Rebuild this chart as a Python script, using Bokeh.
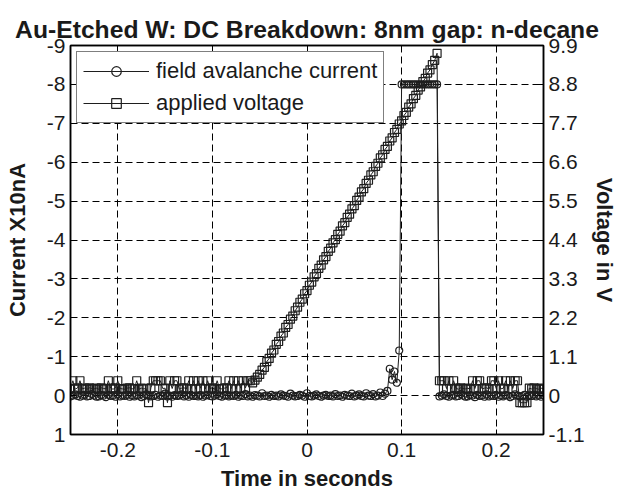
import numpy as np
from bokeh.plotting import figure
from bokeh.models import Range1d, LinearAxis, FixedTicker, Legend, LegendItem, ColumnDataSource
from bokeh.embed import file_html
from bokeh.resources import INLINE

# ---------------- data ----------------
t_start = -0.25
t_step = 0.0025
n_samples = 201

# applied voltage (V), baseline before the ramp (t = -0.25 ... -0.0625)
voltage_pre = [0.20, 0.42, 0.18, 0.22, 0.42, 0.19, 0.21, 0.18, 0.22, 0.20,
               0.19, 0.21, 0.18, 0.22, 0.20, 0.19, 0.42, 0.21, 0.18, 0.22,
               0.42, 0.20, 0.19, 0.18, 0.21, 0.22, 0.19, 0.20, 0.42, 0.18,
               0.21, 0.19, 0.20, -0.20, 0.22, 0.42, 0.42, 0.42, 0.42, 0.20,
               0.21, -0.20, 0.42, 0.20, 0.42, 0.42, 0.18, 0.21, 0.22, 0.19,
               0.42, 0.20, 0.42, 0.18, 0.42, 0.21, 0.42, 0.19, 0.42, 0.20,
               0.22, 0.18, 0.42, 0.20, 0.19, 0.21, 0.22, 0.42, 0.20, 0.42,
               0.19, 0.42, 0.21, 0.42, 0.22, 0.42]
# applied voltage ramp (t = -0.06 ... 0.1375)
voltage_ramp = [0.42, 0.36, 0.44, 0.52, 0.60, 0.72, 0.80, 0.96, 1.05, 1.20,
                1.29, 1.45, 1.53, 1.68, 1.77, 1.93, 2.01, 2.16, 2.25, 2.40,
                2.50, 2.64, 2.73, 2.88, 2.97, 3.12, 3.21, 3.36, 3.45, 3.60,
                3.69, 3.84, 3.93, 4.08, 4.17, 4.32, 4.41, 4.56, 4.65, 4.80,
                4.89, 5.04, 5.13, 5.28, 5.37, 5.52, 5.61, 5.76, 5.85, 6.00,
                6.09, 6.24, 6.33, 6.48, 6.57, 6.72, 6.81, 6.96, 7.05, 7.20,
                7.29, 7.44, 7.53, 7.68, 7.77, 7.92, 8.01, 8.16, 8.25, 8.40,
                8.49, 8.64, 8.73, 8.88, 8.97, 9.12, 9.21, 9.36, 9.48, 9.68]
# applied voltage after breakdown (t = 0.14 ... 0.25)
voltage_post = [0.42, 0.42, 0.42, 0.20, 0.42, 0.19, 0.42, 0.21, 0.18, 0.22,
                0.20, 0.19, 0.21, 0.18, 0.42, 0.20, 0.42, 0.42, 0.19, 0.21,
                0.22, 0.18, 0.42, 0.42, 0.20, 0.42, 0.19, 0.21, 0.42, 0.18,
                0.42, 0.20, 0.42, 0.42, -0.20, -0.20, -0.20, -0.20, 0.21, 0.19,
                0.22, 0.20, 0.18, 0.21, 0.19]

# field avalanche current (x10 nA)
current_pre = [0.02, 0.00, -0.03, 0.01, 0.03, 0.00, -0.02, 0.02, 0.01, -0.04,
               0.00, 0.03, 0.02, -0.01, 0.00, 0.04, -0.02, 0.01, 0.00, 0.03,
               -0.03, 0.02, 0.00, 0.01, -0.02, 0.03, 0.00, 0.02, -0.01, 0.00,
               0.04, 0.01, -0.03, 0.00, 0.02, 0.01, -0.02, 0.03, 0.00, 0.01,
               -0.05, 0.02, 0.00, 0.03, -0.01, 0.01, 0.00, -0.03, 0.02, 0.00,
               0.03, -0.02, 0.01, 0.00, 0.02, -0.01, 0.03, 0.00, -0.02, 0.01,
               0.02, 0.00, -0.03, 0.01, 0.03, 0.00, -0.01, 0.02, 0.00, 0.01,
               -0.02, 0.03, 0.00, 0.01, -0.04, 0.02, 0.00, 0.03, -0.01, 0.00,
               0.02, -0.06, 0.01, 0.00, 0.03, -0.02, 0.01, 0.00, 0.02, -0.03,
               0.00, 0.01, 0.03, -0.05, 0.00, 0.02, 0.01, -0.02, 0.00, 0.03,
               -0.06, 0.01, 0.02, 0.00, -0.03, 0.01, 0.03, 0.00, -0.02, 0.01,
               0.00, 0.02, -0.04, 0.01, 0.00, 0.03, -0.02, 0.00, 0.01, -0.05,
               0.02, 0.00, -0.03, 0.01, 0.02, -0.06, 0.00, 0.01, -0.04, 0.02,
               0.00, -0.08, 0.01, -0.05]
current_spike = [-0.12, -0.69, -0.41, -0.62, -0.33, -1.16]
current_sat = [-8.0] * 16
current_post = [0.02, 0.00, -0.03, 0.01, 0.03, 0.00, -0.02, 0.02, 0.01, -0.04,
                0.00, 0.03, 0.02, -0.01, 0.00, 0.04, -0.02, 0.01, 0.00, 0.03,
                -0.03, 0.02, 0.00, 0.01, -0.02, 0.03, 0.00, 0.02, -0.01, 0.00,
                0.04, 0.01, -0.03, 0.00, 0.02, 0.01, -0.02, 0.03, 0.00, 0.01,
                -0.02, 0.02, 0.00, 0.03, -0.01]

x_ticks = [-0.2, -0.1, 0.0, 0.1, 0.2]
x_tick_labels = ["-0.2", "-0.1", "0", "0.1", "0.2"]
left_ticks = [-9, -8, -7, -6, -5, -4, -3, -2, -1, 0, 1]
left_tick_labels = ["-9", "-8", "-7", "-6", "-5", "-4", "-3", "-2", "-1", "0", "1"]
right_ticks = [-1.1, 0.0, 1.1, 2.2, 3.3, 4.4, 5.5, 6.6, 7.7, 8.8, 9.9]
right_tick_labels = ["-1.1", "0", "1.1", "2.2", "3.3", "4.4", "5.5", "6.6", "7.7", "8.8", "9.9"]

# ---------------- build ----------------
time = t_start + t_step * np.arange(n_samples)
voltage = np.array(voltage_pre + voltage_ramp + voltage_post)
current = np.array(current_pre + current_spike + current_sat + current_post)

src = ColumnDataSource(dict(t=time, v=voltage, c=current))

FONT = "Liberation Sans"
INK = "#1e1e1e"
TXT = "#1a1a1a"

p = figure(width=619, height=493,
           x_range=Range1d(-0.25, 0.25), y_range=Range1d(1, -9),
           output_backend="svg", toolbar_location=None,
           title="Au-Etched W: DC Breakdown: 8nm gap: n-decane",
           min_border_left=70, min_border_right=74, min_border_top=45, min_border_bottom=58)
p.extra_y_ranges = {"v": Range1d(-1.1, 9.9)}

p.title.text_font = FONT
p.title.text_font_size = "24.7px"
p.title.text_font_style = "bold"
p.title.align = "center"
p.title.standoff = 5
p.title.text_color = TXT

p.outline_line_color = "black"
p.outline_line_width = 1.5
p.background_fill_color = "white"
p.border_fill_color = "white"

# axes
p.xaxis.ticker = FixedTicker(ticks=x_ticks)
p.xaxis.major_label_overrides = dict(zip(x_ticks, x_tick_labels))
p.xaxis.axis_label = "Time in seconds"
p.yaxis.ticker = FixedTicker(ticks=left_ticks)
p.yaxis.major_label_overrides = dict(zip(left_ticks, left_tick_labels))
p.yaxis.axis_label = "Current X10nA"

raxis = LinearAxis(y_range_name="v", ticker=FixedTicker(ticks=right_ticks),
                   major_label_overrides=dict(zip(right_ticks, right_tick_labels)),
                   axis_label="Voltage in V")
p.add_layout(raxis, "right")

for ax in [p.xaxis[0], p.yaxis[0], raxis]:
    ax.axis_line_color = "black"
    ax.axis_line_width = 1.5
    ax.major_tick_in = 5
    ax.major_tick_out = 0
    ax.major_tick_line_color = "black"
    ax.minor_tick_line_color = None
    ax.major_label_text_font = FONT
    ax.major_label_text_font_size = "21px"
    ax.major_label_text_line_height = 1.0
    ax.major_label_text_color = TXT
    ax.axis_label_text_font = FONT
    ax.axis_label_text_font_size = "22px"
    ax.axis_label_text_font_style = "bold"
    ax.axis_label_text_line_height = 1.0
    ax.axis_label_text_color = TXT
    ax.major_label_standoff = 5

p.xaxis.major_label_standoff = 8
p.xaxis.axis_label_standoff = 6
p.yaxis.axis_label_standoff = 14
raxis.axis_label_standoff = 4

# top ticks (box style)
taxis = LinearAxis(ticker=FixedTicker(ticks=x_ticks),
                   major_label_overrides={t: "" for t in x_ticks},
                   major_label_text_font_size="0px", major_label_standoff=0,
                   major_tick_in=5, major_tick_out=0, minor_tick_line_color=None,
                   axis_line_color="black", axis_line_width=1.5)
p.add_layout(taxis, "above")

# grid
p.xgrid.ticker = FixedTicker(ticks=x_ticks)
p.ygrid.ticker = FixedTicker(ticks=left_ticks)
for g in [p.xgrid[0], p.ygrid[0]]:
    g.grid_line_color = "black"
    g.grid_line_dash = "7 4"
    g.grid_line_width = 1

# series
c_line = p.line("t", "c", source=src, line_color=INK, line_width=1)
c_pts = p.scatter("t", "c", source=src, marker="circle", size=7,
                  fill_color=None, line_color=INK, line_width=1.2)
v_line = p.line("t", "v", source=src, y_range_name="v", line_color=INK, line_width=1)
v_pts = p.scatter("t", "v", source=src, y_range_name="v", marker="square", size=8,
                  fill_color=None, line_color=INK, line_width=1.2)

legend = Legend(items=[LegendItem(label="field avalanche current", renderers=[c_line, c_pts]),
                       LegendItem(label="applied voltage", renderers=[v_line, v_pts])],
                location="top_left")
legend.margin = 6
legend.padding = 6
legend.spacing = 6
legend.glyph_width = 66
legend.glyph_height = 24
legend.label_height = 24
legend.label_standoff = 7
legend.label_text_font = FONT
legend.label_text_font_size = "22px"
legend.label_text_color = TXT
legend.border_line_color = "black"
legend.border_line_width = 1.5
legend.background_fill_alpha = 1.0
p.add_layout(legend)

open("out.html", "w").write(file_html(p, INLINE))
